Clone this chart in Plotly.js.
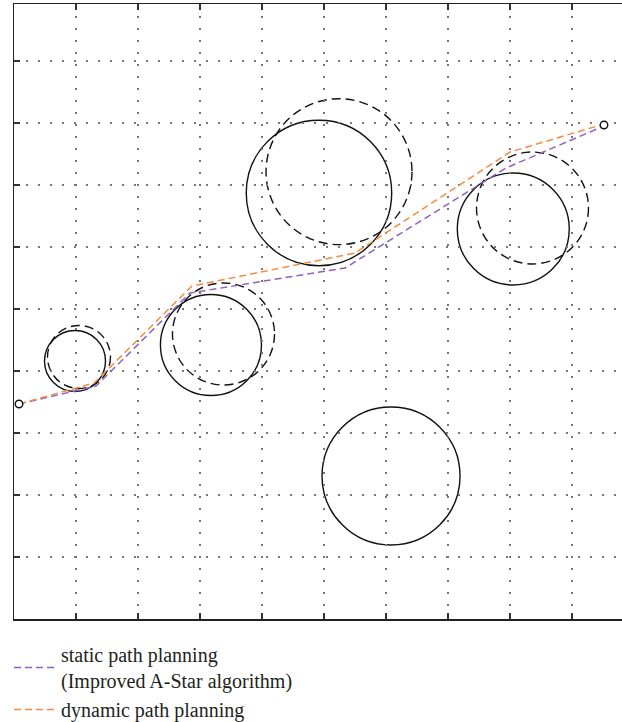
<!DOCTYPE html>
<html>
<head>
<meta charset="utf-8">
<script src="https://cdn.plot.ly/plotly-3.0.1.min.js"></script>
<style>
html,body{margin:0;padding:0;overflow:hidden;background:#fff;}
#chart{width:622px;height:722px;}
</style>
</head>
<body>
<div id="chart"></div>
<script>
// Obstacles (solid = current position, dashed = moved position), in grid units
const solidCx = [0.984, 3.177, 4.919, 8.053, 6.081];
const solidCy = [4.161, 4.419, 6.871, 6.290, 2.306];
const solidR  = [0.492, 0.815, 1.173, 0.903, 1.113];

const dashCx = [1.048, 3.379, 5.242, 8.363];
const dashCy = [4.226, 4.597, 7.215, 6.629];
const dashR  = [0.508, 0.823, 1.177, 0.903];

// Paths
const staticX  = [0.081, 1.323, 2.839, 5.339, 7.935, 9.516];
const staticY  = [3.468, 3.758, 5.258, 5.661, 7.274, 7.952];
const dynamicX = [0.081, 1.290, 2.871, 5.500, 8.000, 9.516];
const dynamicY = [3.468, 3.806, 5.371, 5.903, 7.532, 7.984];

// Start and goal
const endX = [0.081, 9.516];
const endY = [3.468, 7.968];

const seriesNames = ['static path planning<br>(Improved A-Star algorithm)', 'dynamic path planning'];
const tickVals = [0,1,2,3,4,5,6,7,8,9,10];

const shapes = [];
solidCx.forEach((cx, i) => {
  shapes.push({type:'circle', xref:'x', yref:'y', layer:'below',
    x0: cx - solidR[i], x1: cx + solidR[i], y0: solidCy[i] - solidR[i], y1: solidCy[i] + solidR[i],
    line:{color:'#111', width:1.4}});
});
dashCx.forEach((cx, i) => {
  shapes.push({type:'circle', xref:'x', yref:'y', layer:'below',
    x0: cx - dashR[i], x1: cx + dashR[i], y0: dashCy[i] - dashR[i], y1: dashCy[i] + dashR[i],
    line:{color:'#111', width:1.4, dash:'9px,5px'}});
});

const traces = [
  {x: staticX, y: staticY, mode:'lines', name: seriesNames[0],
   line:{color:'#8d62bf', width:1.5, dash:'7px,4px'}, hoverinfo:'skip'},
  {x: dynamicX, y: dynamicY, mode:'lines', name: seriesNames[1],
   line:{color:'#f58b3f', width:1.5, dash:'7px,4px'}, hoverinfo:'skip'},
  {x: endX, y: endY, mode:'markers', showlegend:false,
   marker:{symbol:'circle', size:7.5, color:'#ffffff', line:{width:1.4, color:'#111'}}, hoverinfo:'skip'}
];

const axisCommon = {
  showticklabels:false, ticks:'inside', ticklen:6, tickwidth:1.4, tickcolor:'#333',
  showline:true, linecolor:'#222', linewidth:1.5,
  showgrid:true, gridcolor:'#777', gridwidth:1.2, griddash:'1.5px,10.5px',
  zeroline:false, tickmode:'array', tickvals:tickVals, fixedrange:true
};

const layout = {
  width:622, height:722,
  margin:{l:14, r:0, t:4, b:103, autoexpand:false},
  paper_bgcolor:'#fff', plot_bgcolor:'#fff',
  xaxis: Object.assign({}, axisCommon, {range:[0, 608/62], mirror:'ticks'}),
  yaxis: Object.assign({}, axisCommon, {range:[0, 615/62], mirror:false}),
  shapes: shapes,
  showlegend:true,
  legend:{xref:'container', yref:'container', x:9/622, y:1-635/722, xanchor:'left', yanchor:'top',
    bgcolor:'rgba(0,0,0,0)', itemwidth:42, tracegroupgap:0,
    font:{family:'"Liberation Serif", "DejaVu Serif", serif', size:20, color:'#231f20'}},
  font:{family:'"Liberation Serif", serif'}
};

Plotly.newPlot('chart', traces, layout, {displayModeBar:false, staticPlot:true});
</script>
</body>
</html>
